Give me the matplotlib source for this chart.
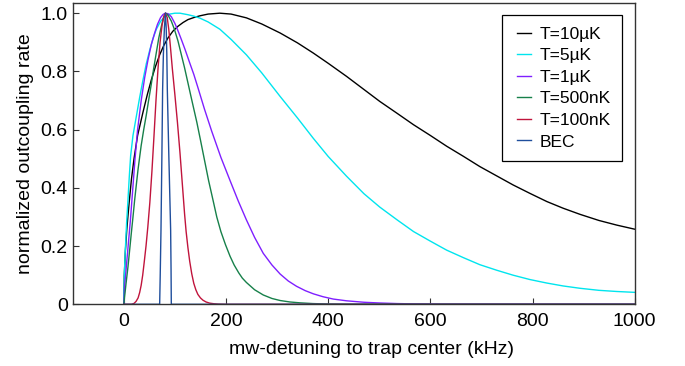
import matplotlib
matplotlib.use("Agg")
import matplotlib.pyplot as plt
from matplotlib.patches import Rectangle

plt.rcParams['font.family'] = ['Liberation Sans', 'DejaVu Sans']

labels = ["T=10\u00b5K", "T=5\u00b5K", "T=1\u00b5K", "T=500nK", "T=100nK", "BEC"]
colors = ["#000000", "#00e5ee", "#7f1fff", "#17804a", "#c0143c", "#1f4e9c"]

x_10uK = [0, 1, 3, 6, 10, 15, 20, 27, 37.6, 46, 53.9, 62, 70.2, 78, 86.5, 96, 106, 116, 125.6, 137, 149, 165, 188, 210, 240,
          270, 306, 340, 371, 400, 436, 470, 501, 535, 567, 600, 632, 665, 697, 730, 762, 795, 828, 860, 893, 930, 965, 1000]
y_10uK = [0, 0.1, 0.18, 0.26, 0.34, 0.43, 0.5, 0.58, 0.66, 0.72, 0.771, 0.817, 0.857, 0.888, 0.915, 0.938, 0.955, 0.968, 0.978, 0.985, 0.991, 0.997, 1.0, 0.997, 0.984,
          0.963, 0.932, 0.898, 0.863, 0.828, 0.783, 0.738, 0.697, 0.656, 0.617, 0.58, 0.543, 0.508, 0.473, 0.441, 0.41, 0.381, 0.353, 0.33, 0.309, 0.288, 0.272, 0.258]

x_5uK = [0, 1, 3, 5.5, 8.2, 10.8, 13.4, 18, 24.5, 31, 37.6, 44, 50.6, 57, 63.7, 72, 80, 90, 100, 110, 125, 137, 149, 165, 188, 210, 240,
         270, 306, 340, 371, 400, 436, 470, 501, 535, 567, 600, 632, 665, 697, 730, 762, 795, 828, 860, 893, 930, 965, 1000]
y_5uK = [0, 0.1, 0.187, 0.28, 0.359, 0.44, 0.51, 0.58, 0.645, 0.71, 0.771, 0.826, 0.872, 0.912, 0.945, 0.972, 0.988, 0.997, 1.0, 1.0, 0.995, 0.99, 0.983, 0.97, 0.945, 0.91, 0.857,
         0.795, 0.714, 0.64, 0.57, 0.508, 0.44, 0.38, 0.334, 0.29, 0.25, 0.217, 0.186, 0.16, 0.136, 0.117, 0.1, 0.085, 0.073, 0.063, 0.055, 0.048, 0.044, 0.041]

x_1uK = [0, 2, 4.5, 7, 10, 13, 16, 19, 22, 27, 34.3, 41, 47.4, 54, 60.4, 66, 72, 77, 81.5, 87, 93, 100, 106, 112.6, 120, 128.9, 137, 145,
         158, 172, 190, 208, 224, 240, 256, 273, 290, 306, 322, 338, 355, 371, 390, 410, 436, 470, 501, 535, 567, 620, 1000]
y_1uK = [0, 0.07, 0.12, 0.17, 0.23, 0.29, 0.36, 0.43, 0.5, 0.6, 0.703, 0.78, 0.84, 0.893, 0.932, 0.962, 0.985, 0.996, 1.0, 0.998, 0.988, 0.965, 0.94, 0.91, 0.875, 0.83, 0.79, 0.745,
         0.67, 0.595, 0.505, 0.425, 0.355, 0.29, 0.23, 0.175, 0.135, 0.104, 0.08, 0.062, 0.047, 0.036, 0.026, 0.018, 0.012, 0.007, 0.0045, 0.0025, 0.0015, 0.0005, 0]

x_500nK = [0, 4, 8.2, 11.5, 14.7, 18, 21.3, 24.5, 27.8, 31, 34, 39, 44, 49, 53.9, 58.5, 63.7, 68.5, 73.5, 77.5, 81.5, 86, 93, 99, 106, 112, 119, 125, 132,
           143, 150, 158, 166, 175, 182, 190, 199, 208, 216, 225, 232, 240, 256, 273, 290, 306, 325, 345, 370, 400, 450, 1000]
y_500nK = [0, 0.065, 0.129, 0.187, 0.244, 0.3, 0.359, 0.41, 0.462, 0.505, 0.545, 0.6, 0.65, 0.705, 0.757, 0.81, 0.865, 0.915, 0.955, 0.983, 1.0, 0.995, 0.973, 0.945, 0.905, 0.862, 0.812, 0.765, 0.71,
           0.625, 0.565, 0.495, 0.425, 0.355, 0.3, 0.25, 0.205, 0.165, 0.135, 0.108, 0.09, 0.075, 0.05, 0.032, 0.02, 0.013, 0.008, 0.005, 0.0025, 0.001, 0.0003, 0]

x_100nK = [0, 15, 20, 24, 28, 31, 34, 37, 40, 43.5, 47, 51, 55, 59, 63, 67, 71, 75, 78.5, 81.5, 85, 88, 91, 95, 100, 105, 110, 113, 116, 119, 122,
           125.5, 129, 133, 137, 141, 145, 150, 155, 161, 168, 176, 185, 200, 1000]
y_100nK = [0, 0, 0.003, 0.01, 0.022, 0.04, 0.065, 0.1, 0.145, 0.2, 0.265, 0.35, 0.455, 0.575, 0.7, 0.81, 0.9, 0.96, 0.99, 1.0, 0.985, 0.945, 0.89, 0.81, 0.72, 0.625, 0.52, 0.45, 0.38, 0.31, 0.25,
           0.195, 0.148, 0.105, 0.072, 0.05, 0.034, 0.022, 0.014, 0.008, 0.004, 0.002, 0.0007, 0, 0]

x_bec = [0, 70.2, 71.3, 72.8, 74.5, 76, 77.5, 79.5, 81.5, 83, 84.2, 85.2, 88.3, 91.7, 92.5, 93, 1000]
y_bec = [0, 0, 0.1, 0.255, 0.5, 0.737, 0.86, 0.95, 1.0, 0.95, 0.86, 0.737, 0.5, 0.255, 0.12, 0, 0]

xs = [x_10uK, x_5uK, x_1uK, x_500nK, x_100nK, x_bec]
ys = [y_10uK, y_5uK, y_1uK, y_500nK, y_100nK, y_bec]

x_ticks = [0, 200, 400, 600, 800, 1000]
y_ticks = [0, 0.2, 0.4, 0.6, 0.8, 1.0]
y_ticklabels = ["0", "0.2", "0.4", "0.6", "0.8", "1.0"]

W, H = 685, 366
fig = plt.figure(figsize=(W / 100, H / 100), dpi=100)
ax = fig.add_axes([72.7 / W, (H - 304.3) / H, 562 / W, 301 / H])

for x, y, c, lab in zip(xs, ys, colors, labels):
    ax.plot(x, y, color=c, lw=1.0, label=lab)

ax.set_xlim(-100, 1000)
ax.set_ylim(0, 1.034)
ax.set_xticks(x_ticks)
ax.set_yticks(y_ticks)
ax.set_yticklabels(y_ticklabels)
ax.tick_params(direction='in', length=4, width=0.8, labelsize=14, color='#333333')
ax.tick_params(axis='x', pad=6.5)
ax.tick_params(axis='y', pad=3.5)
for s in ax.spines.values():
    s.set_color('#333333')
    s.set_linewidth(1.0)

ax.set_xlabel("mw-detuning to trap center (kHz)", fontsize=14)
ax.xaxis.set_label_coords(0.531, -0.122)
ax.set_ylabel("normalized outcoupling rate", fontsize=14, labelpad=5)

# legend frame
frame = Rectangle((502 / W, (H - 161) / H), 119.7 / W, 146 / H, transform=fig.transFigure,
                  facecolor='white', edgecolor='#000000', lw=0.9, zorder=10)
fig.add_artist(frame)
leg = fig.legend(*ax.get_legend_handles_labels(), loc='center left',
                 bbox_to_anchor=(517 / W, (H - 88) / H), bbox_transform=fig.transFigure,
                 fontsize=12.5, handlelength=0.83, handletextpad=0.5, labelspacing=0.37,
                 frameon=False, borderpad=0, borderaxespad=0)
leg.set_zorder(11)

fig.savefig("out.png", dpi=100)
